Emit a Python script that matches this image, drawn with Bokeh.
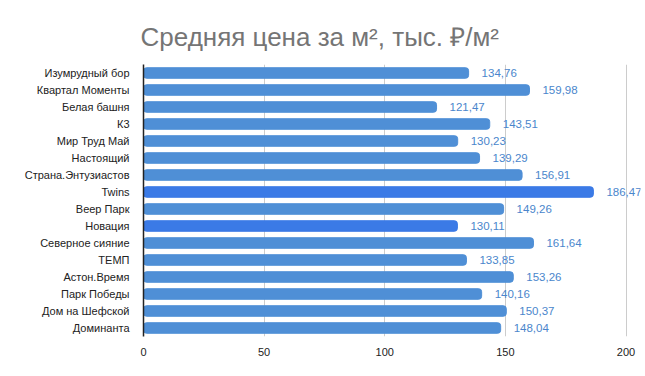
from bokeh.plotting import figure
from bokeh.models import ColumnDataSource, FixedTicker, Title
from bokeh.embed import file_html
from bokeh.resources import INLINE
from bokeh.core.properties import value

names = ["Изумрудный бор", "Квартал Моменты", "Белая башня", "К3", "Мир Труд Май",
         "Настоящий", "Страна.Энтузиастов", "Twins", "Веер Парк", "Новация",
         "Северное сияние", "ТЕМП", "Астон.Время", "Парк Победы",
         "Дом на Шефской", "Доминанта"]
prices = [134.76, 159.98, 121.47, 143.51, 130.23, 139.29, 156.91, 186.47, 149.26,
          130.11, 161.64, 133.85, 153.26, 140.16, 150.37, 148.04]
highlight = ["Twins", "Новация"]
x_ticks = [0, 50, 100, 150, 200]

base_color = "#4f8fd6"
hi_color = "#3b7ae6"
colors = [hi_color if n in highlight else base_color for n in names]
labels = [f"{v:.2f}".replace(".", ",") for v in prices]

src = ColumnDataSource(dict(name=names, price=prices, color=colors, label=labels))

p = figure(width=645, height=376, y_range=list(reversed(names)), x_range=(0, 206),
           output_backend="svg", toolbar_location=None,
           min_border_left=143, min_border_right=5, min_border_bottom=40, min_border_top=64)
p.title = Title(text="Средняя цена за м², тыс. ₽/м²", align="left",
                text_font="Liberation Sans", text_font_size="26px",
                text_font_style="normal", text_color="#757575", standoff=25,
                offset=-3)
p.outline_line_color = None
p.background_fill_color = "white"
p.border_fill_color = "white"

p.hbar(y="name", right="price", left=0, height=0.62, color="color", source=src,
       border_radius=3)
p.text(x="price", y="name", text="label", source=src, x_offset=13,
       text_font=value("Liberation Sans"), text_font_size="11.5px",
       text_color="#4a86cc", text_baseline="middle", text_align="left")

p.xaxis.ticker = FixedTicker(ticks=x_ticks)
p.xaxis.axis_line_color = None
p.xaxis.major_tick_line_color = None
p.xaxis.minor_tick_line_color = None
p.xaxis.major_label_text_font = "Liberation Sans"
p.xaxis.major_label_text_font_size = "11px"
p.xaxis.major_label_text_color = "#222222"
p.xaxis.major_label_standoff = 5

p.yaxis.axis_line_color = "#222222"
p.yaxis.axis_line_width = 1.5
p.yaxis.major_tick_line_color = None
p.yaxis.minor_tick_line_color = None
p.yaxis.major_label_text_font = "Liberation Sans"
p.yaxis.major_label_text_font_size = "11px"
p.yaxis.major_label_text_color = "#222222"
p.yaxis.major_label_standoff = 8

p.xgrid.ticker = FixedTicker(ticks=x_ticks)
p.xgrid.grid_line_color = "#cccccc"
p.ygrid.grid_line_color = None

open("out.html", "w").write(file_html(p, INLINE))
